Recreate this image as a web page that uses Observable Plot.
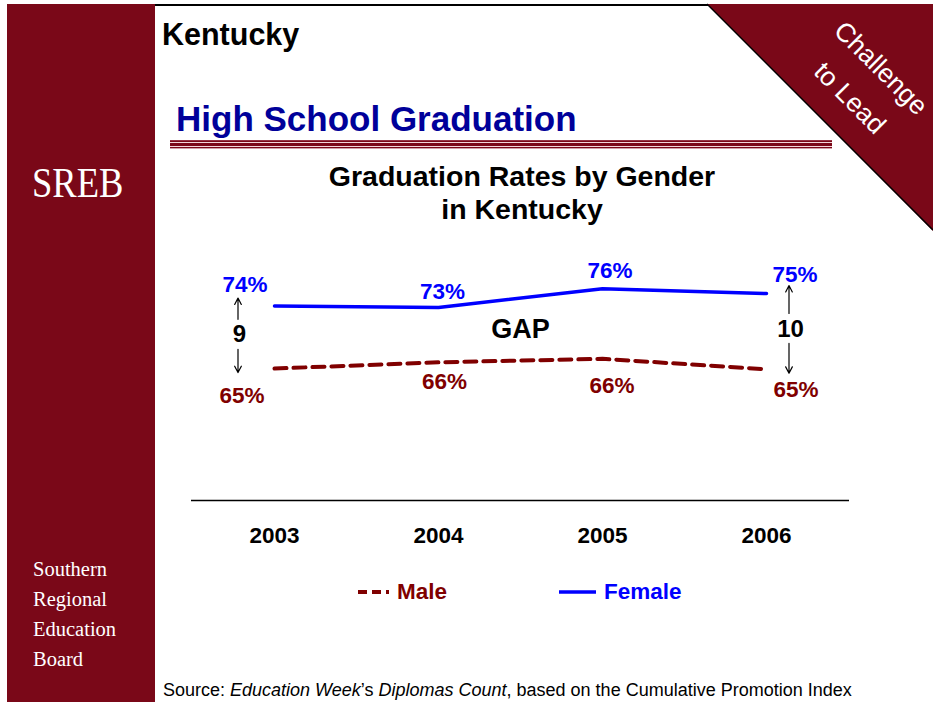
<!DOCTYPE html>
<html>
<head>
<meta charset="utf-8">
<script src="https://cdn.jsdelivr.net/npm/d3@7"></script>
<script src="https://cdn.jsdelivr.net/npm/@observablehq/plot@0.6"></script>
<style>
  body { margin: 0; background: #fff; }
  #slide { position: relative; width: 933px; height: 702px; overflow: hidden; background: #fff;
           font-family: "Liberation Sans", Arial, Helvetica, sans-serif; }
  .abs { position: absolute; white-space: nowrap; line-height: 1; }
  .serif { font-family: "Liberation Serif", "Times New Roman", serif; color: #fff; }
  #chart { position: absolute; left: 0; top: 0; }
  #chart svg [aria-label="x-axis tick label"] text { font-weight: bold; }
</style>
</head>
<body>
<div id="slide">
  <!-- left sidebar -->
  <div class="abs" style="left:7px;top:4px;width:148px;height:698px;background:#7a0818;"></div>
  <div class="abs serif" style="left:32px;top:161px;font-size:43px;transform:scaleX(0.85);transform-origin:left top;">SREB</div>
  <div class="abs serif" style="left:33px;top:554px;font-size:20.5px;line-height:30px;">Southern<br>Regional<br>Education<br>Board</div>

  <!-- top border -->
  <div class="abs" style="left:155px;top:4px;width:778px;height:1.5px;background:#000;"></div>

  <!-- corner triangle -->
  <svg class="abs" style="left:0;top:0;" width="933" height="702">
    <polygon points="707,4 933,4 933,231" fill="#7a0818"/>
    <line x1="707" y1="4" x2="933" y2="230" stroke="#000" stroke-width="1.5"/>
    <text transform="translate(881,68) rotate(45)" text-anchor="middle" dominant-baseline="central"
          fill="#fff" font-size="26.5" font-family="Liberation Sans, Arial, sans-serif">Challenge</text>
    <text transform="translate(850,98) rotate(45)" text-anchor="middle" dominant-baseline="central"
          fill="#fff" font-size="26.5" font-family="Liberation Sans, Arial, sans-serif">to Lead</text>
  </svg>

  <!-- titles -->
  <div class="abs" style="left:162px;top:19.3px;font-size:30.5px;font-weight:bold;color:#000;">Kentucky</div>
  <div class="abs" style="left:176px;top:101.4px;font-size:35px;font-weight:bold;color:#00009a;">High School Graduation</div>
  <div class="abs" style="left:170px;top:140px;width:662px;height:9px;
       background:linear-gradient(to bottom,#b06070 0px,#7a0818 1px,#7a0818 2px,#f2d6da 2px,#f2d6da 3px,#7a0818 3px,#7a0818 6px,#f2d6da 6px,#f2d6da 7px,#7a0818 7px,#7a0818 8px,#d0a0a8 8px,#d0a0a8 9px);"></div>
  <div class="abs" style="left:272px;top:160px;width:500px;text-align:center;font-size:28.5px;line-height:33px;font-weight:bold;color:#000;">Graduation Rates by Gender<br>in Kentucky</div>

  <!-- chart -->
  <div id="chart"></div>

  <!-- legend -->
  <svg class="abs" style="left:0;top:0;pointer-events:none;" width="933" height="702">
    <line x1="358" y1="592" x2="395" y2="592" stroke="#800000" stroke-width="4" stroke-dasharray="9,5,9,5,3"/>
    <line x1="559" y1="592" x2="596" y2="592" stroke="#0000ff" stroke-width="3.5"/>
  </svg>
  <div class="abs" style="left:397px;top:581.4px;font-size:22.5px;font-weight:bold;color:#800000;">Male</div>
  <div class="abs" style="left:604px;top:581.4px;font-size:22.5px;font-weight:bold;color:#0000ff;">Female</div>

  <!-- source -->
  <div class="abs" style="left:163px;top:680.8px;font-size:18px;color:#000;">Source: <i>Education Week</i>’s <i>Diplomas Count</i>, based on the Cumulative Promotion Index</div>
</div>

<script>
// ---- data ----
const years = ["2003", "2004", "2005", "2006"];
const femaleValues = [74.0, 73.8, 76.5, 75.8];   // line positions
const maleValues = [65.0, 65.9, 66.4, 64.9];
const femaleLabels = [74, 73, 76, 75];           // printed percentages
const maleLabels = [65, 66, 66, 65];
const gapYears = ["2003", "2006"];
const gapValues = [9, 10];
const gapText = "GAP";

// ---- build tables ----
const female = years.map((y, i) => ({year: y, value: femaleValues[i], label: femaleLabels[i] + "%"}));
const male = years.map((y, i) => ({year: y, value: maleValues[i], label: maleLabels[i] + "%"}));
const gaps = gapYears.map((y, i) => {
  const k = years.indexOf(y);
  return {year: y, gap: gapValues[i], top: femaleValues[k], bottom: maleValues[k], mid: (femaleValues[k] + maleValues[k]) / 2};
});

// label offsets (pixels) — layout only
const femaleOffsets = [[-29.5, -21], [4, -16], [7.5, -17.5], [28.5, -18.5]];
const maleOffsets = [[-32.5, 27.5], [6, 19], [9.5, 27], [29.5, 21]];
const gapOffsets = [{dx: -35, dy: -3}, {dx: 24, dy: -2.5}];

const FEMALE = "#0000ff";
const MALE = "#800000";

const marks = [
  Plot.ruleY([46], {stroke: "#000", strokeWidth: 1.5}),
  Plot.axisX({tickSize: 0, tickPadding: 27, fontSize: 22.5, fontWeight: "bold", label: null}),
  Plot.line(male, {x: "year", y: "value", stroke: MALE, strokeWidth: 4, strokeDasharray: "12,7"}),
  Plot.line(female, {x: "year", y: "value", stroke: FEMALE, strokeWidth: 3.5})
];

female.forEach((d, i) => marks.push(Plot.text([d], {
  x: "year", y: "value", text: "label", dx: femaleOffsets[i][0], dy: femaleOffsets[i][1],
  fill: FEMALE, fontSize: 22.5, fontWeight: "bold"
})));
male.forEach((d, i) => marks.push(Plot.text([d], {
  x: "year", y: "value", text: "label", dx: maleOffsets[i][0], dy: maleOffsets[i][1],
  fill: MALE, fontSize: 22.5, fontWeight: "bold"
})));

gaps.forEach((d, i) => {
  const o = gapOffsets[i];
  marks.push(Plot.text([d], {x: "year", y: "mid", text: "gap", dx: o.dx, dy: o.dy, fill: "#000", fontSize: 24, fontWeight: "bold"}));
  marks.push(Plot.arrow([d], {x1: "year", x2: "year", y1: "mid", y2: "top", dx: o.dx - 1.5,
    insetStart: 18, insetEnd: -8, stroke: "#000", strokeWidth: 1.2, headLength: 9, headAngle: 55}));
  marks.push(Plot.arrow([d], {x1: "year", x2: "year", y1: "mid", y2: "bottom", dx: o.dx - 1.5,
    insetStart: 12, insetEnd: -4, stroke: "#000", strokeWidth: 1.2, headLength: 9, headAngle: 55}));
});

// GAP label between 2004 and 2005
const gapMid = (femaleValues[1] + femaleValues[2] + maleValues[1] + maleValues[2]) / 4;
marks.push(Plot.text([{year: years[1], v: gapMid, t: gapText}], {
  x: "year", y: "v", text: "t", dx: 82, fill: "#000", fontSize: 27, fontWeight: "bold"
}));

const chart = Plot.plot({
  width: 933,
  height: 702,
  marginLeft: 191,
  marginRight: 84,
  marginTop: 250,
  marginBottom: 202,
  x: {type: "point", domain: years, padding: 0.5, axis: null},
  y: {domain: [46, 82], axis: null},
  style: {background: "transparent", fontFamily: "Liberation Sans, Arial, Helvetica, sans-serif", color: "#000", overflow: "visible"},
  marks
});
document.getElementById("chart").appendChild(chart);
</script>
</body>
</html>
